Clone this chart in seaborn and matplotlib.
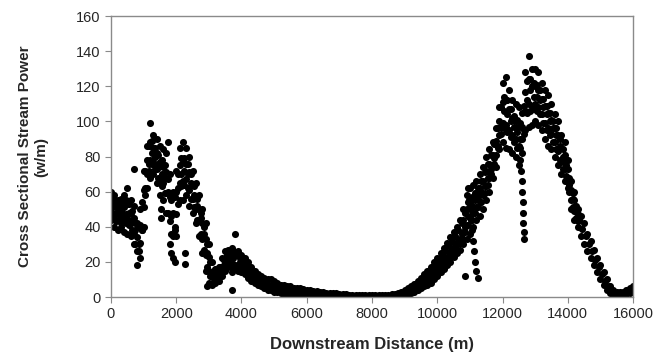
import numpy as np
import pandas as pd
import seaborn as sns
import matplotlib.pyplot as plt

# downstream distance grid (m), 100 m spacing
distance = np.arange(0, 16001, 100)

# lower edge of the point cloud (w/m)
power_lo = [44, 40, 38, 40, 37, 36, 35, 30, 18, 22,
            40, 62, 68, 70, 65, 58, 55, 48, 30, 22,
            35, 55, 55, 58, 52, 48, 42, 35, 25, 15,
            8, 7, 8, 9, 12, 15, 17, 17, 16, 15,
            14, 13, 11, 9, 8, 7, 6, 5, 4, 4,
            3, 3, 2, 1, 1, 1, 1, 1, 1.5, 1.5,
            1.5, 1, 1, 1, 0.8, 0.8, 0.5, 0.5, 0.3, 0.3,
            0.2, 0.1, 0.1, 0.1, 0.1, 0.1, 0.1, 0.1, 0.1, 0.1,
            0.1, 0.1, 0.1, 0.1, 0.1, 0.1, 0.2, 0.3, 0.5, 0.8,
            1, 1.5, 2, 3, 4, 5, 6, 7, 8, 10,
            12, 14, 16, 18, 20, 23, 25, 27, 30, 33,
            36, 40, 44, 46, 50, 55, 60, 68, 74, 84,
            88, 85, 84, 82, 80, 75, 82, 95, 97, 98,
            100, 98, 95, 90, 86, 84, 80, 75, 70, 66,
            62, 50, 44, 40, 35, 30, 26, 22, 18, 14,
            10, 7, 4, 2, 1, 0.5, 0.5, 1, 1.5, 2,
            3]

# upper edge of the point cloud (w/m)
power_hi = [60, 58, 55, 56, 58, 62, 55, 52, 42, 50,
            72, 86, 99, 92, 90, 86, 84, 82, 70, 60,
            72, 85, 88, 85, 80, 72, 65, 58, 50, 42,
            30, 20, 16, 17, 22, 26, 27, 28, 36, 26,
            24, 22, 20, 17, 15, 13, 12, 11, 10, 10,
            9, 8, 7, 7, 6, 6, 5, 5, 5, 4.5,
            4, 4, 3.5, 3.5, 3, 3, 2.5, 2.5, 2, 2,
            1.8, 1.6, 1.5, 1.4, 1.3, 1.2, 1.2, 1.2, 1.2, 1.2,
            1.2, 1.2, 1.2, 1.2, 1.3, 1.4, 1.5, 1.8, 2.2, 3,
            4, 5, 6, 7.5, 9, 11, 13, 15, 17, 20,
            22, 25, 28, 31, 34, 37, 40, 44, 50, 58,
            62, 64, 66, 70, 74, 80, 84, 88, 96, 108,
            122, 125, 118, 112, 110, 108, 105, 128, 137, 130,
            130, 128, 122, 118, 115, 110, 104, 100, 92, 88,
            78, 66, 60, 50, 46, 42, 36, 32, 27, 22,
            18, 14, 10, 6, 4, 3, 3, 3, 4, 5,
            6]

# middle of the cloud, read halfway between the grid points (50, 150, ... m)
mid_x = np.arange(50, 16000, 100)
power_mid = [52, 48, 47, 48, 47, 48, 44, 38, 30, 38,
             62, 76, 82, 80, 76, 70, 68, 60, 46, 40,
             62, 70, 72, 70, 65, 58, 52, 45, 36, 25,
             14, 12, 12, 14, 18, 21, 22, 22, 24, 20,
             18, 16, 14, 12, 11, 10, 9, 8, 7, 6,
             5.5, 5, 4.5, 4, 3.5, 3.5, 3, 3, 3, 3,
             2.8, 2.5, 2.3, 2.2, 2, 1.8, 1.6, 1.5, 1.2, 1.1,
             1, 0.8, 0.7, 0.7, 0.6, 0.6, 0.6, 0.6, 0.6, 0.6,
             0.6, 0.6, 0.6, 0.6, 0.7, 0.8, 0.9, 1.1, 1.5, 2,
             2.8, 3.5, 4.5, 5.5, 7, 8.5, 10, 11.5, 13, 15.5,
             18, 20.5, 23, 25, 27.5, 30, 33, 36, 40, 46,
             52, 55, 57, 60, 63, 68, 73, 79, 86, 97,
             106, 104, 100, 97, 94, 90, 93, 112, 118, 114,
             114, 112, 108, 104, 100, 96, 92, 86, 80, 75,
             64, 56, 50, 44, 39, 35, 30, 26, 21, 17,
             13, 9, 6, 3.5, 2.2, 1.6, 1.6, 2, 2.8, 3.8]

# interior of the wide upstream part of the cloud (0-3000 m)
inner1_x = np.arange(0, 3001, 100)
inner1_a = [49, 46, 44, 45, 44, 45, 42, 37, 26, 31, 51, 70, 78, 77, 73, 67,
            65, 59, 43, 35, 47, 65, 66, 67, 61, 56, 50, 43, 33, 24, 15]
inner1_b = [55, 52, 50, 51, 51, 53, 48, 45, 34, 41, 61, 78, 88, 85, 82, 77,
            74, 71, 57, 48, 60, 75, 77, 76, 71, 64, 57, 50, 42, 33, 23]
inner1_xs = np.arange(50, 3000, 100)
inner1_c = [46, 43, 43, 43, 42, 41, 38, 30, 26, 38, 58, 72, 76, 73, 68, 63,
            59, 48, 36, 38, 53, 63, 64, 62, 56, 51, 44, 36, 27, 17]
inner1_d = [55, 53, 52, 53, 55, 53, 49, 42, 40, 54, 72, 86, 89, 85, 81, 78,
            75, 67, 55, 57, 70, 79, 79, 76, 70, 63, 56, 48, 40, 30]

# interior of the small hump (3000-4600 m)
inner3_xs = np.arange(3050, 4600, 100)
inner3_a = [12, 10, 10, 13, 16, 19, 19, 19, 18, 17, 16, 14, 12, 10, 9, 8]
inner3_b = [20, 15, 14, 17, 21, 24, 25, 26, 24, 22, 20, 18, 16, 14, 12, 11]

# interior of the rising limb (9600-10800 m)
inner4_xs = np.arange(9650, 10800, 100)
inner4_a = [8.5, 10, 12, 14, 16, 18, 20, 23, 25, 28, 30, 33]
inner4_b = [12, 14, 16, 18, 21, 24, 27, 29, 32, 35, 38, 42]

# interior of the wide downstream part of the cloud (10800-14300 m)
inner2_x = np.arange(10800, 14301, 100)
inner2_a = [37, 41, 45, 48, 51, 54, 58, 63, 68, 75, 81, 92, 99, 98, 95, 92,
            90, 86, 90, 106, 110, 109, 110, 108, 104, 99, 96, 93, 88, 83,
            77, 73, 67, 55, 49, 43]
inner2_b = [44, 50, 53, 56, 59, 62, 66, 72, 76, 81, 89, 100, 111, 112, 107,
            102, 100, 97, 97, 117, 124, 120, 120, 118, 113, 109, 105, 101,
            96, 92, 85, 81, 73, 61, 55, 47]
inner2_xs = np.arange(10850, 14300, 100)
inner2_c = [37, 41, 44, 48, 51, 54, 59, 64, 70, 76, 85, 93, 96, 94, 91, 88,
            85, 85, 95, 105, 106, 107, 106, 104, 99, 95, 92, 88, 84, 78,
            73, 69, 60, 51, 45]
inner2_d = [48, 54, 57, 59, 62, 66, 71, 76, 81, 87, 96, 108, 114, 112, 107,
            103, 101, 99, 109, 123, 124, 122, 121, 118, 113, 109, 105, 100,
            96, 90, 84, 78, 68, 59, 52]

# stray points away from the main band
stray_x = [700, 1530, 1530, 1750, 1830, 1950, 2260, 2260, 2930, 3700, 3700,
           10850, 10950, 10980, 11000, 11030, 11060, 11100, 11130, 11160,
           11200, 11250, 12550, 12570, 12590, 12610, 12620, 12630, 12640,
           12650, 12660]
stray_y = [73, 50, 45, 88, 25, 20, 25, 19, 6, 14, 4,
           12, 62, 55, 50, 44, 38, 32, 26, 20, 15, 11,
           78, 72, 66, 60, 54, 48, 42, 37, 33]

df = pd.concat([
    pd.DataFrame({'dist': distance, 'power': power_lo}),
    pd.DataFrame({'dist': distance, 'power': power_hi}),
    pd.DataFrame({'dist': mid_x, 'power': power_mid}),
    pd.DataFrame({'dist': inner1_x, 'power': inner1_a}),
    pd.DataFrame({'dist': inner1_x, 'power': inner1_b}),
    pd.DataFrame({'dist': inner1_xs, 'power': inner1_c}),
    pd.DataFrame({'dist': inner1_xs, 'power': inner1_d}),
    pd.DataFrame({'dist': inner3_xs, 'power': inner3_a}),
    pd.DataFrame({'dist': inner3_xs, 'power': inner3_b}),
    pd.DataFrame({'dist': inner4_xs, 'power': inner4_a}),
    pd.DataFrame({'dist': inner4_xs, 'power': inner4_b}),
    pd.DataFrame({'dist': inner2_x, 'power': inner2_a}),
    pd.DataFrame({'dist': inner2_x, 'power': inner2_b}),
    pd.DataFrame({'dist': inner2_xs, 'power': inner2_c}),
    pd.DataFrame({'dist': inner2_xs, 'power': inner2_d}),
    pd.DataFrame({'dist': stray_x, 'power': stray_y}),
], ignore_index=True)

sns.set_style('ticks')
plt.rcParams['font.family'] = ['Liberation Sans', 'DejaVu Sans']

fig = plt.figure(figsize=(6.71, 3.59), dpi=100)
ax = fig.add_axes([0.1654, 0.1727, 0.778, 0.7827])
sns.scatterplot(data=df, x='dist', y='power', color='black', s=26,
                linewidth=0, ax=ax)

ax.set_xlim(0, 16000)
ax.set_ylim(0, 160)
ax.set_xticks(range(0, 16001, 2000))
ax.set_yticks(range(0, 161, 20))
for s in ax.spines.values():
    s.set_color('#8a8a8a')
    s.set_linewidth(1)
ax.tick_params(direction='out', length=4, color='#8a8a8a', labelsize=10.5)
ax.set_xlabel('Downstream Distance (m)', fontsize=12, fontweight='bold', labelpad=11)
ax.set_ylabel('Cross Sectional Stream Power\n(w/m)', fontsize=11,
              fontweight='bold', labelpad=20)

fig.savefig('out.png', dpi=100)
